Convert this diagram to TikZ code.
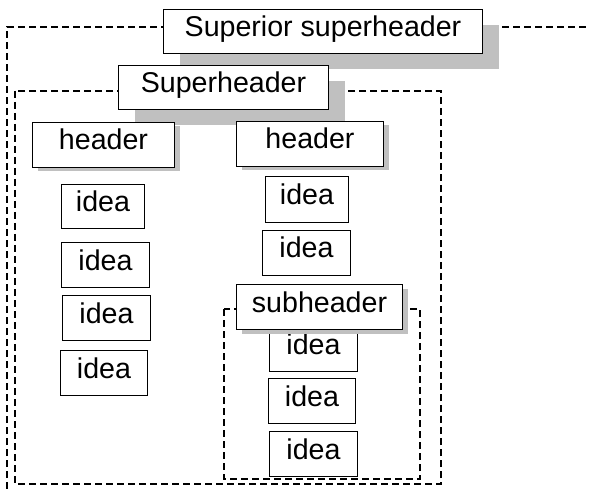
\documentclass[tikz,border=0pt]{standalone}
\usepackage{fontspec}
\setmainfont{Liberation Sans}
\usetikzlibrary{shadows}
\definecolor{shadowgray}{RGB}{192,192,192}
\tikzset{
  box/.style={draw=black, line width=1.5pt, fill=white, inner sep=0pt,
    text height=20pt, text depth=10pt, font=\fontsize{28.6}{34}\selectfont},
  bigshadow/.style={drop shadow={shadow xshift=16pt, shadow yshift=-16pt, fill=shadowgray, opacity=1}},
  smallshadow/.style={drop shadow={shadow xshift=5pt, shadow yshift=-4pt, fill=shadowgray, opacity=1}},
  frame/.style={draw=black, line width=1.5pt, dash pattern=on 7pt off 4pt}
}
\begin{document}
\begin{tikzpicture}[x=1pt,y=-1pt]
\useasboundingbox (0,0) rectangle (589,489);
% group frames
\draw[frame] (7,489) -- (7,27) -- (589,27);
\draw[frame] (15,91) rectangle (441,484);
\draw[frame] (224,309) rectangle (420,479);
% headers
\node[box, bigshadow, minimum width=319pt, minimum height=44pt] (supsup) at (323,31.5) {Superior superheader};
\node[box, bigshadow, minimum width=210pt, minimum height=44pt] (sup) at (223.5,87.5) {Superheader};
\node[box, smallshadow, minimum width=142pt, minimum height=45pt] (hL) at (103.5,145) {header};
\node[box, smallshadow, minimum width=147pt, minimum height=45pt] (hR) at (310,144) {header};
% left column ideas
\node[box, minimum width=83pt, minimum height=44pt] (iL1) at (103,206.5) {idea};
\node[box, minimum width=88pt, minimum height=45pt] (iL2) at (105.5,265) {idea};
\node[box, minimum width=88pt, minimum height=45pt] (iL3) at (106.5,318) {idea};
\node[box, minimum width=87pt, minimum height=45pt] (iL4) at (104,373) {idea};
% right column ideas
\node[box, minimum width=83pt, minimum height=46pt] (iR1) at (307,199.5) {idea};
\node[box, minimum width=88pt, minimum height=45pt] (iR2) at (306.5,253) {idea};
% sub group
\node[box, minimum width=88pt, minimum height=45pt] (iS1) at (313.5,349) {idea};
\node[box, smallshadow, minimum width=166pt, minimum height=45pt] (sub) at (319.5,307) {subheader};
\node[box, minimum width=87pt, minimum height=45pt] (iS2) at (312,401) {idea};
\node[box, minimum width=88pt, minimum height=45pt] (iS3) at (313.5,454) {idea};
\end{tikzpicture}
\end{document}
